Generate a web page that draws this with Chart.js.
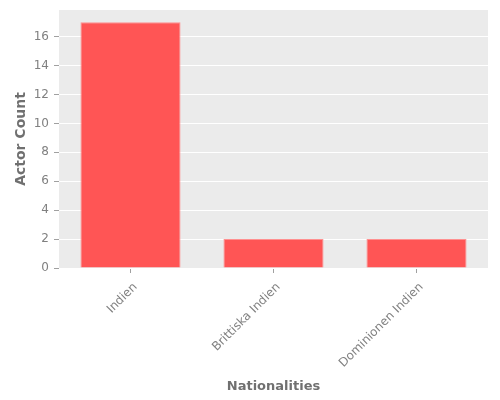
<!DOCTYPE html>
<html><head><meta charset="utf-8">
<script src="https://cdn.jsdelivr.net/npm/chart.js@4/dist/chart.umd.min.js"></script>
<style>html,body{margin:0;padding:0;background:#fff}#c{display:block}</style>
</head><body>
<canvas id="c" width="500" height="400"></canvas>
<script>
const categories = ["Indien", "Brittiska Indien", "Dominionen Indien"];
const actorCounts = [17, 2, 2];
const yTicks = [0, 2, 4, 6, 8, 10, 12, 14, 16];

const bgPlugin = {
  id: 'bg',
  beforeDraw(chart) {
    const {ctx, chartArea: a} = chart;
    ctx.save();
    ctx.fillStyle = '#EBEBEB';
    ctx.fillRect(a.left, a.top, a.right - a.left, a.bottom - a.top);
    ctx.restore();
  }
};

new Chart(document.getElementById('c'), {
  type: 'bar',
  data: {
    labels: categories,
    datasets: [{
      data: actorCounts,
      backgroundColor: '#FF5555',
      borderColor: '#FF9090',
      borderWidth: 1,
      categoryPercentage: 1,
      barPercentage: 0.7
    }]
  },
  options: {
    responsive: false,
    animation: false,
    layout: {padding: {left: 0, top: 10, right: 12, bottom: 0}},
    plugins: {legend: {display: false}, tooltip: {enabled: false}},
    scales: {
      x: {
        grid: {display: true, offset: false, drawOnChartArea: false, drawTicks: true, tickLength: 5, tickColor: '#a0a0a0'},
        border: {display: false},
        ticks: {color: '#808080', font: {family: 'DejaVu Sans', size: 12}, maxRotation: 45, minRotation: 45, padding: 7, labelOffset: 5},
        title: {display: true, text: 'Nationalities', color: '#707070', font: {family: 'DejaVu Sans', size: 13, weight: 'bold'}, padding: {top: 0, bottom: 6}},
        afterFit(s) { s.height = 132; s.paddingLeft = 0; s.paddingRight = 0; }
      },
      y: {
        min: 0, max: 17.85,
        afterBuildTicks(s) { s.ticks = yTicks.map(v => ({value: v})); },
        grid: {color: '#FFFFFF', lineWidth: 1, drawTicks: true, tickLength: 5, tickColor: '#a0a0a0'},
        border: {display: false},
        ticks: {color: '#808080', font: {family: 'DejaVu Sans', size: 12}, padding: 5},
        title: {display: true, text: 'Actor Count', color: '#707070', font: {family: 'DejaVu Sans', size: 14, weight: 'bold'}, padding: {top: 13, bottom: 0}},
        afterFit(s) { s.width = 59; s.paddingTop = 0; s.paddingBottom = 0; }
      }
    }
  },
  plugins: [bgPlugin]
});
</script>
</body></html>
